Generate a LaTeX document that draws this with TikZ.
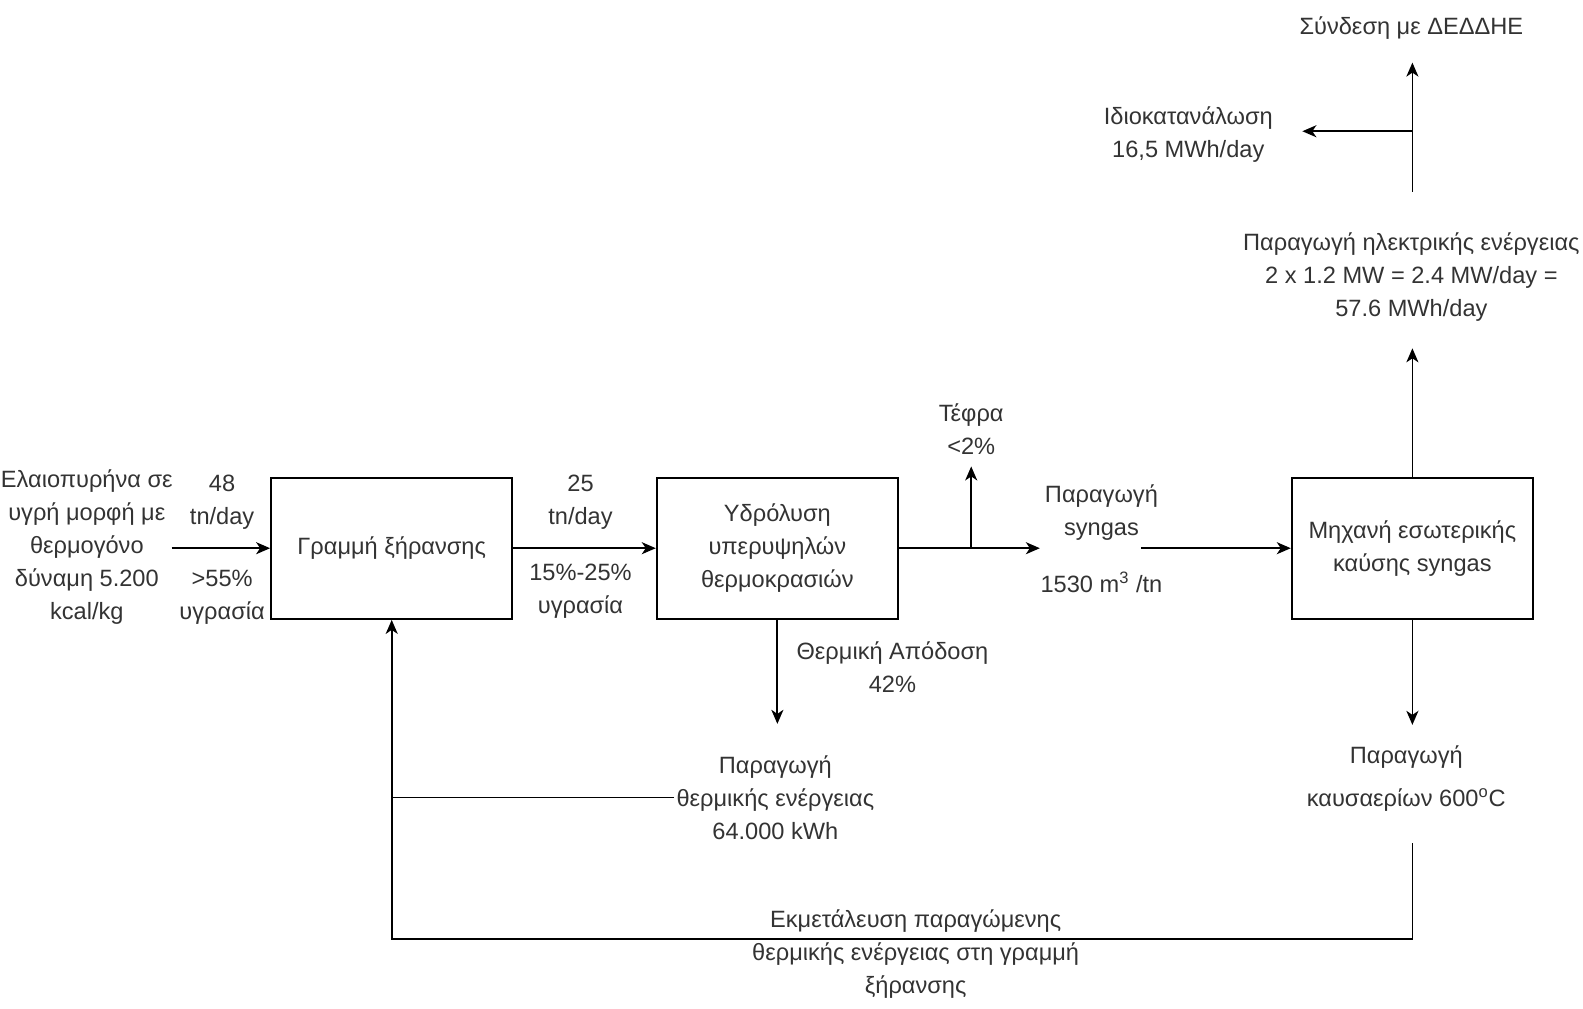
\documentclass[tikz,border=0pt]{standalone}
\usepackage{fontspec}
\setmainfont{Liberation Sans}
\usetikzlibrary{arrows.meta}

\definecolor{txtgray}{HTML}{333333}

\tikzset{
   box/.style={draw, line width=1pt, minimum width=120.6pt, minimum height=70.7pt,
      align=center, text=txtgray, font=\fontsize{11.8}{16.5}\selectfont},
   lbl/.style={align=center, text=txtgray, inner sep=1pt,
      font=\fontsize{11.8}{16.5}\selectfont},
   flow/.style={line width=0.9pt, -{Stealth[length=7pt,width=6pt,inset=2pt]}},
   plain/.style={line width=0.9pt}
}

\begin{document}
\begin{tikzpicture}[x=0.5048pt,y=-0.5048pt]
   \useasboundingbox (0,0) rectangle (1568,999);

   % process blocks
   \node[box] (dry) at (388,543) {Γραμμή ξήρανσης};
   \node[box] (hyd) at (770,543) {Υδρόλυση\\υπερυψηλών\\θερμοκρασιών};
   \node[box] (eng) at (1399,543) {Μηχανή εσωτερικής\\καύσης syngas};

   % texts
   \node[lbl] (feed) at (86,542) {Ελαιοπυρήνα σε\\υγρή μορφή με\\θερμογόνο\\δύναμη 5.200\\kcal/kg};
   \node[lbl] (inrate) at (220,497) {48\\tn/day};
   \node[lbl] (inhum) at (220,592) {>55\%\\υγρασία};
   \node[lbl] (outrate) at (575,497) {25\\tn/day};
   \node[lbl] (outhum) at (575,586) {15\%-25\%\\υγρασία};
   \node[lbl] (ash) at (962,425) {Τέφρα\\<2\%};
   \node[lbl] (syngas) at (1091,508) {Παραγωγή\\syngas};
   \node[lbl] (synrate) at (1091,577) {1530 m\textsuperscript{3} /tn};
   \node[lbl] (elec) at (1398,274) {Παραγωγή ηλεκτρικής ενέργειας\\2 x 1.2 MW = 2.4 MW/day =\\57.6 MWh/day};
   \node[lbl] (own) at (1177,133) {Ιδιοκατανάλωση\\16,5 MWh/day};
   \node[lbl] (grid) at (1398,28) {Σύνδεση με ΔΕΔΔΗΕ};
   \node[lbl] (exh) at (1393,771) {Παραγωγή\\[5pt]καυσαερίων 600\textsuperscript{o}C};
   \node[lbl] (eff) at (884,661) {Θερμική Απόδοση\\42\%};
   \node[lbl] (heat) at (768,790) {Παραγωγή\\θερμικής ενέργειας\\64.000 kWh};
   \node[lbl] (reuse) at (907,945) {Εκμετάλευση παραγώμενης\\θερμικής ενέργειας στη γραμμή\\ξήρανσης};

   % free ends
   \coordinate (feedout) at (170,543);
   \coordinate (ashjoin) at (962,543);
   \coordinate (ashin) at (962,462);
   \coordinate (synin) at (1030,543);
   \coordinate (synout) at (1130,543);
   \coordinate (elecin) at (1399,345);
   \coordinate (elecout) at (1399,190);
   \coordinate (gridin) at (1399,62);
   \coordinate (ownjoin) at (1399,130);
   \coordinate (ownin) at (1290,130);
   \coordinate (exhin) at (1399,718);
   \coordinate (exhout) at (1399,835);
   \coordinate (heatin) at (770,717);
   \coordinate (fbturn) at (388,930);

   % connectors
   \draw[flow] (feedout) -- (dry.west);
   \draw[flow] (dry.east) -- (hyd.west);
   \draw[flow] (hyd.east) -- (synin);
   \draw[flow] (ashjoin) -- (ashin);
   \draw[flow] (synout) -- (eng.west);
   \draw[flow] (eng.north) -- (elecin);
   \draw[flow] (elecout) -- (gridin);
   \draw[flow] (ownjoin) -- (ownin);
   \draw[flow] (eng.south) -- (exhin);
   \draw[flow] (hyd.south) -- (heatin);
   \draw[flow] (exhout) |- (fbturn) -- (dry.south);
   \draw[plain] (heat.west) -- (heat.west -| dry.south);
\end{tikzpicture}
\end{document}
